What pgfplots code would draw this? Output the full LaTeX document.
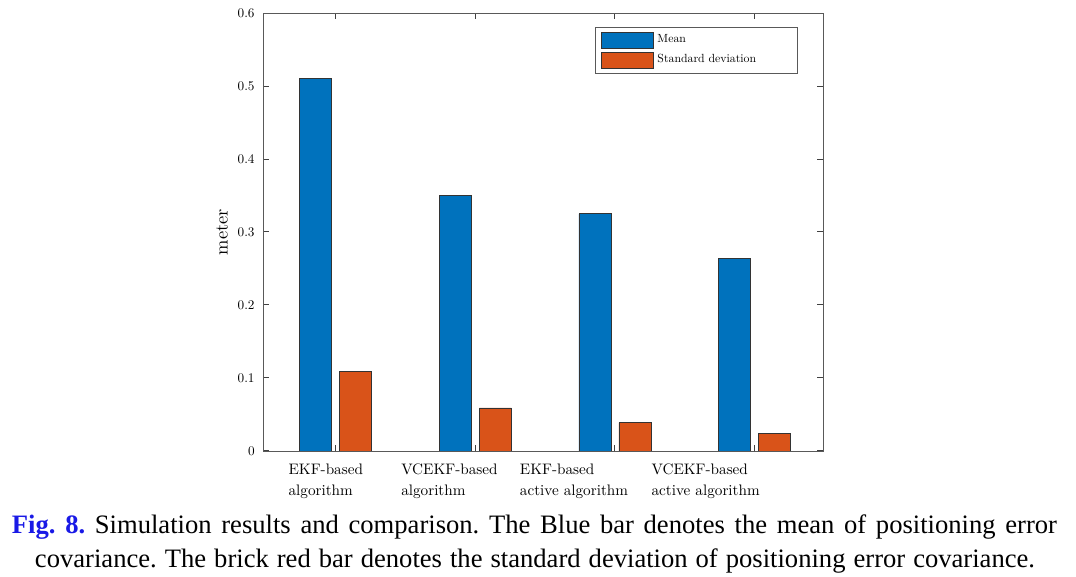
\documentclass[border=0pt]{standalone}
\usepackage{fontspec}
\setmainfont{lmroman10-regular.otf}[BoldFont=lmroman10-bold.otf, ItalicFont=lmroman10-italic.otf]
\usepackage{pgfplots}
\pgfplotsset{compat=1.18}
\newfontfamily\capfont{Liberation Serif}
\definecolor{mblue}{rgb}{0,0.447,0.741}
\definecolor{morange}{rgb}{0.85,0.325,0.098}
\definecolor{figblue}{RGB}{25,25,230}
\pgfplotsset{mybarlegend/.style={legend image code/.code={\draw[##1] (0pt,-4pt) rectangle (26pt,4pt);}}}
\newcommand{\lab}[3]{\makebox[0pt][l]{\hspace*{#1}\begin{tabular}[t]{@{}l@{}}#2\\#3\end{tabular}}}
\begin{document}
\begin{tikzpicture}
\useasboundingbox (-131.5pt,-63pt) rectangle (406.5pt,225.5pt);
\begin{axis}[
  at={(0,0)}, anchor=south west,
  scale only axis, width=280pt, height=219pt,
  xmin=0.48, xmax=4.49, ymin=0, ymax=0.6,
  xtick={1,2,3,4},
  xticklabels={\lab{-23.5pt}{EKF-based}{algorithm}, \lab{-37pt}{VCEKF-based}{algorithm}, \lab{-47.5pt}{EKF-based}{active algorithm}, \lab{-51.5pt}{VCEKF-based}{active algorithm}},
  ytick={0,0.1,0.2,0.3,0.4,0.5,0.6},
  yticklabels={0,0.1,0.2,0.3,0.4,0.5,0.6},
  tick align=inside, tick pos=both, major tick length=2.8pt,
  axis line style={black!65},
  every tick/.style={black!75, line width=0.5pt},
  yticklabel style={font=\fontsize{6.6}{8}\selectfont, anchor=east, inner sep=0pt, xshift=-4pt},
  xticklabel style={font=\fontsize{7.6}{10.5}\selectfont, anchor=north, inner sep=0pt, yshift=-4.1pt},
  ylabel={meter},
  every axis y label/.style={at={(axis description cs:-0.0732,0.5)}, rotate=90, anchor=center, font=\fontsize{9.2}{11}\selectfont},
  legend style={at={(rel axis cs:0.593,0.968)}, anchor=north west, draw=black!65, fill=white,
    font=\fontsize{5.9}{7}\selectfont, inner xsep=3pt, inner ysep=2.25pt, row sep=1.6pt, column sep=1.6pt,
    nodes={inner sep=0pt}},
  legend cell align=left,
]
\addplot[ybar, bar width=16pt, bar shift=-10pt, fill=mblue, draw=black!80, mybarlegend]
  coordinates {(1,0.510)(2,0.350)(3,0.325)(4,0.264)};
\addlegendentry{\makebox[67pt][l]{Mean}}
\addplot[ybar, bar width=16pt, bar shift=10pt, fill=morange, draw=black!80, mybarlegend]
  coordinates {(1,0.109)(2,0.059)(3,0.039)(4,0.024)};
\addlegendentry{\makebox[67pt][l]{Standard deviation}}
\end{axis}
\node[anchor=base, font=\capfont\frenchspacing\fontsize{13.3}{17}\selectfont] at (135.75pt,-41.5pt)
  {\makebox[522.5pt][s]{{\color{figblue}\bfseries Fig. 8.} Simulation results and comparison. The Blue bar denotes the mean of positioning error}};
\node[anchor=base, font=\capfont\frenchspacing\fontsize{13.3}{17}\selectfont] at (136pt,-58.5pt)
  {\makebox[500pt][s]{covariance. The brick red bar denotes the standard deviation of positioning error covariance.}};
\end{tikzpicture}
\end{document}
